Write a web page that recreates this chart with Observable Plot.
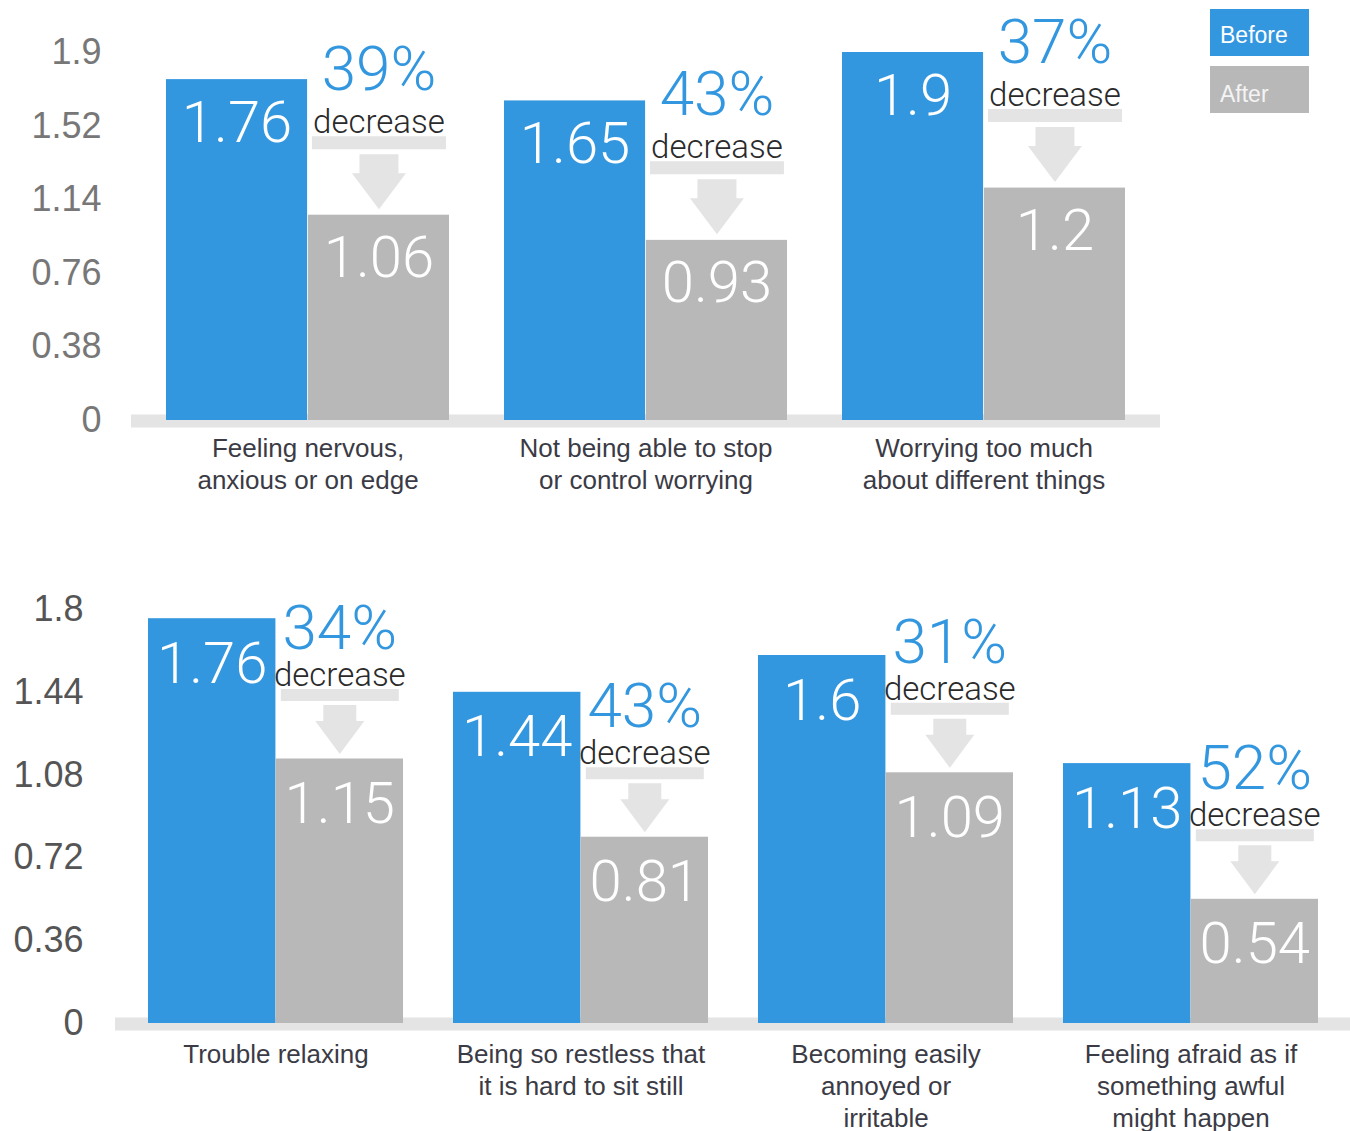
<!DOCTYPE html>
<html><head><meta charset="utf-8">
<script src="https://cdn.jsdelivr.net/npm/d3@7"></script>
<script src="https://cdn.jsdelivr.net/npm/@observablehq/plot@0.6"></script>
<style>
html,body{margin:0;padding:0;background:#fff;}
#wrap{position:relative;width:1350px;height:1131px;overflow:hidden;background:#fff;}
#top,#bottom{position:absolute;left:0;}
#top{top:0}
#bottom{top:540px}
.legend{position:absolute;left:1210px;width:99px;height:47px;box-sizing:border-box;padding-left:10px;font-size:23px;font-family:"Liberation Sans",Helvetica,Arial,sans-serif;color:#fff;line-height:26px;}
</style></head><body>
<div id="wrap"><div id="top"></div><div id="bottom"></div></div>
<script>
// ---- data ----
const seriesNames = ["Before", "After"];
const seriesColors = ["#3397df", "#b8b8b8"];

const topCategories = ["Feeling nervous,\nanxious or on edge", "Not being able to stop\nor control worrying", "Worrying too much\nabout different things"];
const topBefore = [1.76, 1.65, 1.9];
const topAfter = [1.06, 0.93, 1.2];
const topPct = ["39%", "43%", "37%"];
const topTicks = [0, 0.38, 0.76, 1.14, 1.52, 1.9];

const bottomCategories = ["Trouble relaxing", "Being so restless that\nit is hard to sit still", "Becoming easily\nannoyed or\nirritable", "Feeling afraid as if\nsomething awful\nmight happen"];
const bottomBefore = [1.76, 1.44, 1.6, 1.13];
const bottomAfter = [1.15, 0.81, 1.09, 0.54];
const bottomPct = ["34%", "43%", "31%", "52%"];
const bottomTicks = [0, 0.36, 0.72, 1.08, 1.44, 1.8];

const decreaseWord = "decrease";

// ---- styling ----
const SANS = '"Liberation Sans", Helvetica, Arial, sans-serif';
const LIGHT = 'Roboto, "Open Sans", Lato, sans-serif';
const BLUE = seriesColors[0], GRAY = seriesColors[1], BAND = "#e4e4e4";

function arrowShape(cx, o) {
  return {
    draw(ctx) {
      ctx.moveTo(cx - o.band, -o.bandTop);
      ctx.lineTo(cx + o.band, -o.bandTop);
      ctx.lineTo(cx + o.band, -o.bandBot);
      ctx.lineTo(cx - o.band, -o.bandBot);
      ctx.closePath();
      ctx.moveTo(cx - o.shaft, -o.shaftTop);
      ctx.lineTo(cx + o.shaft, -o.shaftTop);
      ctx.lineTo(cx + o.shaft, -o.headBase);
      ctx.lineTo(cx + o.head, -o.headBase);
      ctx.lineTo(cx, -o.tip);
      ctx.lineTo(cx - o.head, -o.headBase);
      ctx.lineTo(cx - o.shaft, -o.headBase);
      ctx.closePath();
    }
  };
}

function panel(cfg) {
  const data = cfg.categories.map((c, i) => ({cat: c, before: cfg.before[i], after: cfg.after[i], pct: cfg.pct[i]}));
  const n = data.length;
  const span = cfg.width - cfg.marginRight - cfg.marginLeft;
  const step = span / (n - cfg.pi + 2 * cfg.po);
  const half = step * (1 - cfg.pi) / 2;
  const q = half / 2;
  return Plot.plot({
    width: cfg.width, height: cfg.height,
    marginTop: cfg.marginTop, marginBottom: cfg.marginBottom,
    marginLeft: cfg.marginLeft, marginRight: cfg.marginRight,
    style: {fontFamily: SANS, background: "transparent", overflow: "visible"},
    x: {domain: cfg.categories, paddingInner: cfg.pi, paddingOuter: cfg.po, axis: null},
    y: {domain: [0, cfg.max], axis: null},
    marks: [
      Plot.ruleY([0], {stroke: BAND, strokeWidth: 13, dy: 0.5}),
      Plot.barY(data, {x: "cat", y: "before", fill: BLUE, insetRight: half}),
      Plot.barY(data, {x: "cat", y: "after", fill: GRAY, insetLeft: half}),
      Plot.axisY({ticks: cfg.ticks, tickSize: 0, tickPadding: cfg.tickPadding, fontSize: cfg.tickFont, fill: cfg.tickColor, tickFormat: d => String(d)}),
      Plot.text(data, {x: "cat", y: "before", text: d => String(d.before), dx: -q, dy: cfg.valDy, lineAnchor: "bottom", fill: "white", fontSize: 58, fontWeight: 300, fontFamily: LIGHT}),
      Plot.text(data, {x: "cat", y: "after", text: d => String(d.after), dx: q, dy: cfg.valDy, lineAnchor: "bottom", fill: "white", fontSize: 58, fontWeight: 300, fontFamily: LIGHT}),
      Plot.vector(data, {x: "cat", y: "after", length: 10, anchor: "start", shape: arrowShape(q, cfg.arrow), fill: BAND, stroke: "none"}),
      Plot.text(data, {x: "cat", y: "after", text: () => decreaseWord, dx: q, dy: cfg.decDy, lineAnchor: "bottom", fill: "#2a2a2a", fontSize: 33, fontWeight: 300, fontFamily: LIGHT}),
      Plot.text(data, {x: "cat", y: "after", text: "pct", dx: q, dy: cfg.pctDy, lineAnchor: "bottom", fill: BLUE, fontSize: 62, fontWeight: 300, fontFamily: LIGHT}),
      Plot.text(data, {x: "cat", frameAnchor: "bottom", text: "cat", lineAnchor: "top", dy: cfg.catDy, fontSize: 26, lineHeight: 32 / 26, fill: "#3b3b45", fontFamily: SANS})
    ]
  });
}

document.getElementById("top").appendChild(panel({
  categories: topCategories, before: topBefore, after: topAfter, pct: topPct, ticks: topTicks, max: 1.9,
  width: 1350, height: 540, marginTop: 52, marginBottom: 120, marginLeft: 131, marginRight: 190,
  pi: 0.162, po: 0.1, tickPadding: 30, tickFont: 36, tickColor: "#777",
  valDy: 62, decDy: -82, pctDy: -125, catDy: 14,
  arrow: {band: 67, bandTop: 79, bandBot: 66, shaft: 19.5, shaftTop: 61, headBase: 42, head: 27, tip: 6}
}));

document.getElementById("bottom").appendChild(panel({
  categories: bottomCategories, before: bottomBefore, after: bottomAfter, pct: bottomPct, ticks: bottomTicks, max: 1.8,
  width: 1350, height: 591, marginTop: 69, marginBottom: 108, marginLeft: 115, marginRight: 0,
  pi: 0.164, po: 0.105, tickPadding: 32, tickFont: 36, tickColor: "#555",
  valDy: 64, decDy: -73, pctDy: -110, catDy: 17,
  arrow: {band: 59, bandTop: 70, bandBot: 58, shaft: 16.5, shaftTop: 54, headBase: 38, head: 24.5, tip: 5}
}));

// legend
const wrap = document.getElementById("wrap");
const legendTops = [9, 66];
const legendPad = [13, 15];
seriesNames.forEach((name, i) => {
  const d = document.createElement("div");
  d.className = "legend";
  d.style.top = legendTops[i] + "px";
  d.style.paddingTop = legendPad[i] + "px";
  d.style.background = seriesColors[i];
  if (i === 1) d.style.color = "#f4f4f4";
  d.textContent = name;
  wrap.appendChild(d);
});
</script>
</body></html>
